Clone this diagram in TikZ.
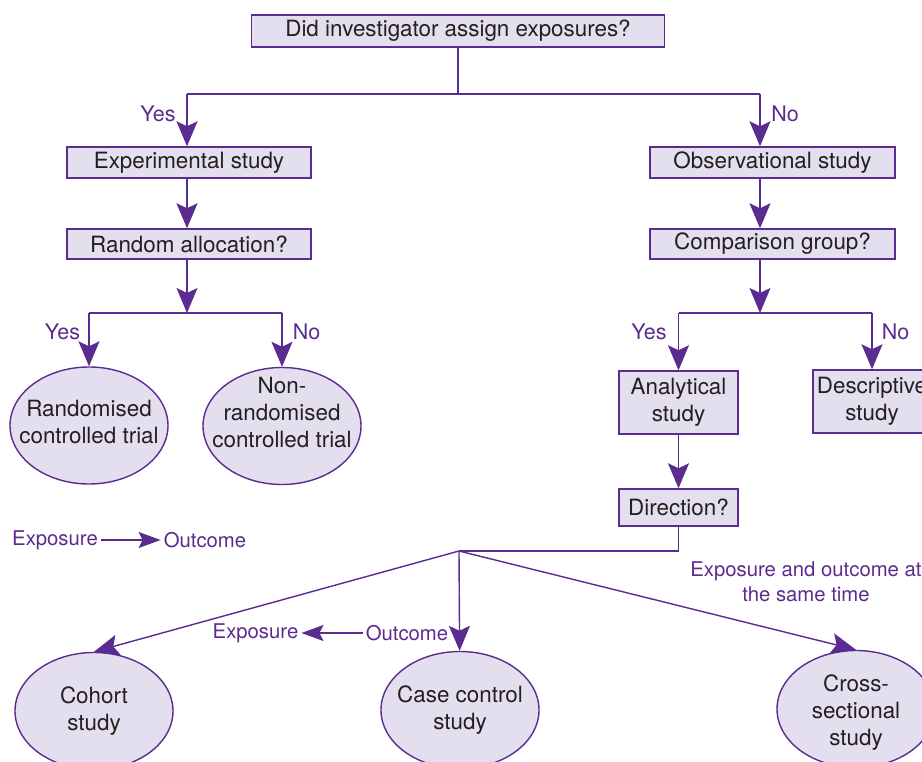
\documentclass[tikz,border=0pt]{standalone}
\usepackage{fontspec}
\setmainfont{TeX Gyre Heros}
\usetikzlibrary{arrows.meta,shapes.geometric}
\definecolor{pline}{HTML}{5B2C8F}
\definecolor{pfill}{HTML}{E4DFEE}
\definecolor{ptext}{HTML}{231F20}
\begin{document}
\begin{tikzpicture}[x=1pt,y=-1pt,
  box/.style={draw=pline,line width=1.4pt,fill=pfill,text=ptext,font=\fontsize{22.4}{27}\selectfont,align=center,inner sep=0pt},
  oval/.style={ellipse,draw=pline,line width=1.4pt,fill=pfill,minimum width=158pt,minimum height=117pt,inner sep=0pt},
  otext/.style={text=ptext,font=\fontsize{22.4}{27}\selectfont,align=center,inner sep=0pt},
  lbl/.style={text=pline,font=\fontsize{21.5}{26}\selectfont,inner sep=0pt},
  slbl/.style={text=pline,font=\fontsize{20.3}{25}\selectfont,inner sep=3pt},
  conn/.style={draw=pline,line width=1.4pt},
  arr/.style={conn,-{Stealth[length=25pt,width=21pt,inset=5pt]}},
  sarr/.style={conn,-{Stealth[length=22pt,width=16pt,inset=4pt]}}]
\clip (0,0) rectangle (922,762);
\fill[white] (0,0) rectangle (922,762);
% boxes
\node[box,minimum width=413pt,minimum height=32pt] (top) at (458,31) {Did investigator assign exposures?};
\node[box,minimum width=244pt,minimum height=31pt] (exp) at (189,162.5) {Experimental study};
\node[box,minimum width=244pt,minimum height=30pt] (rand) at (189,244) {Random allocation?};
\node[box,minimum width=245pt,minimum height=31pt] (obs) at (772.5,162.5) {Observational study};
\node[box,minimum width=245pt,minimum height=30pt] (comp) at (772.5,244) {Comparison group?};
\node[box,minimum width=119pt,minimum height=63pt] (ana) at (678.5,402.5) {Analytical\\study};
\node[box,minimum width=118pt,minimum height=63pt] (desc) at (872,401.5) {Descriptive\\study};
\node[box,minimum width=119pt,minimum height=37pt] (dir) at (678.5,507.5) {Direction?};
% ovals
\node[oval] (rct) at (89,425.5) {};
\node[otext] (rcttxt) at ([yshift=3pt]rct) {Randomised\\controlled trial};
\node[oval] (nrct) at (282,426) {};
\node[otext] (nrcttxt) at ([yshift=13pt]nrct) {Non-\\randomised\\controlled trial};
\node[oval] (cohort) at (94,711) {};
\node[otext] (cohorttxt) at (cohort) {Cohort\\study};
\node[oval] (casec) at (460,710) {};
\node[otext] (casectxt) at (casec) {Case control\\study};
\node[oval] (cross) at (856,709) {};
\node[otext] (crosstxt) at ([yshift=-4pt]cross) {Cross-\\sectional\\study};
% junctions
\coordinate (j1) at (458,94);
\coordinate (jy) at (187,94);
\coordinate (jn) at (760,94);
\coordinate (k1) at (187,313);
\coordinate (ky) at (89,313);
\coordinate (kn) at (282,313);
\coordinate (m1) at (760,313);
\coordinate (my) at (678.5,313);
\coordinate (mn) at (872,313);
\coordinate (d1) at (678.5,551);
\coordinate (d2) at (459,551);
% connectors
\draw[conn] (top) -- (j1);
\draw[conn] (jy) -- (jn);
\draw[arr] (jy) -- (exp.north -| jy);
\draw[arr] (jn) -- (obs.north -| jn);
\draw[arr] (exp.south -| jy) -- (rand.north -| jy);
\draw[arr] (rand.south -| k1) -- (k1);
\draw[conn] (ky) -- (kn);
\draw[arr] (ky) -- (rct);
\draw[arr] (kn) -- (nrct);
\draw[arr] (obs.south -| jn) -- (comp.north -| jn);
\draw[arr] (comp.south -| m1) -- (m1);
\draw[conn] (my) -- (mn);
\draw[arr] (my) -- (ana);
\draw[arr] (mn) -- (desc);
\draw[arr] (ana) -- (dir);
\draw[conn] (dir) -- (d1) -- (d2);
\draw[arr] (d2) -- (cohort.north);
\draw[arr] (d2) -- (casec);
\draw[arr] (d2) -- (cross.north);
% labels
\node[lbl] (y1) at (158,114) {Yes};
\node[lbl] (n1) at (785,114) {No};
\node[lbl] (y2) at (62.5,332) {Yes};
\node[lbl] (n2) at (306.5,332) {No};
\node[lbl] (y3) at (649,332) {Yes};
\node[lbl] (n3) at (895.5,332) {No};
\node[slbl] (ex1) at (55,540) {Exposure};
\node[slbl] (oc1) at (205,540) {Outcome};
\draw[sarr] (ex1) -- (oc1);
\node[slbl] (ex2) at (255.5,633) {Exposure};
\node[slbl] (oc2) at (407,633) {Outcome};
\draw[sarr] (oc2) -- (ex2);
\node[slbl,align=center] (same) at (806,581.5) {Exposure and outcome at\\the same time};
\end{tikzpicture}
\end{document}
